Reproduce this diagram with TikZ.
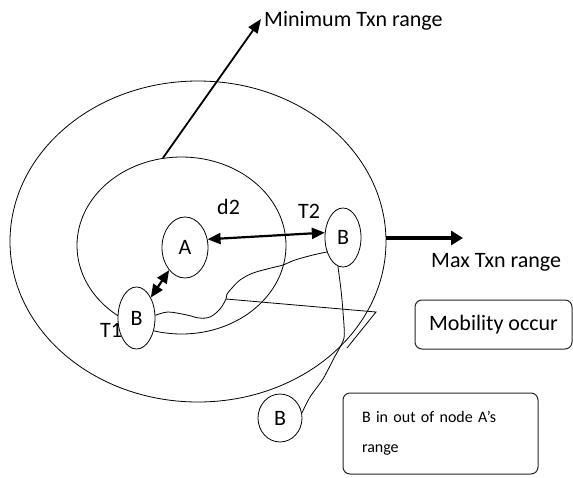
\documentclass[tikz,border=0pt]{standalone}
\usepackage{fontspec}
\setmainfont{Carlito}
\usetikzlibrary{shapes.geometric,arrows.meta}
\begin{document}
\begin{tikzpicture}[x=1pt,y=-1pt,
  ring/.style={draw, ellipse, line width=0.8pt, inner sep=0pt},
  mnode/.style={draw, ellipse, fill=white, line width=0.8pt, inner sep=0pt, font=\fontsize{22}{26}\selectfont},
  lbl/.style={font=\fontsize{22}{26}\selectfont, inner sep=0pt},
  note/.style={draw=black!85, rounded corners=7pt, line width=1pt, inner sep=0pt},
  thinline/.style={line width=0.8pt},
  dbl/.style={line width=2.2pt, {Triangle[length=13pt,width=11pt]}-{Triangle[length=13pt,width=11pt]}},
]
\useasboundingbox (0,0) rectangle (573,477);
% ranges
\node[ring, minimum width=376pt, minimum height=321pt] (outer) at (198,241.5) {};
\node[ring, minimum width=209pt, minimum height=177pt] (inner) at (181.5,245.5) {};
% mobile nodes
\node[mnode, minimum width=46pt, minimum height=61pt] (A) at (185,247.5) {A};
\node[mnode, minimum width=37pt, minimum height=62pt] (B1) at (136.5,318) {B};
\node[mnode, minimum width=36pt, minimum height=59pt] (B2) at (343,237.5) {B};
\node[mnode, minimum width=44pt, minimum height=48pt] (B3) at (280,418) {B};
% coordinates
\coordinate (mintip) at (261,19);
\coordinate (maxtip) at (463,238);
\coordinate (w) at (226,299);
\coordinate (tr) at (376,312);
\coordinate (tb) at (347,348);
% wavy path
\draw[thinline] plot[smooth, tension=0.55] coordinates {(B2.222) (313,255) (295,260) (283,265) (271,268) (253,273) (240,280) (232,288) (227,294) (w) (220,309) (210,317) (199,318) (187,315) (168,312) (B1.8)};
\draw[thinline] (w) -- (tr) -- (tb);
\draw[thinline] plot[smooth, tension=0.4] coordinates {(B2.260) (341,290) (343,312) (344,338) (334,358) (323,379) (310,397) (B3.13)};
% arrows
\draw[line width=1.8pt, -{Triangle[length=14pt,width=11pt]}] (inner.102) -- (mintip);
\draw[line width=4pt, -{Triangle[length=12pt,width=14pt]}] (outer.east |- maxtip) -- (maxtip);
\draw[dbl] (A.20) -- (B2.165);
\draw[dbl] (A.235) -- (B1.55);
% labels
\node[lbl, anchor=base west] (minl) at (264,26.5) {Minimum Txn range};
\node[lbl, anchor=base west] (maxl) at (431,267) {Max Txn range};
\node[lbl, anchor=base west] (d2l) at (217,214) {d2};
\node[lbl, anchor=base west] (t2l) at (298,218) {T2};
\node[lbl, anchor=base west] (t1l) at (100,337) {T1};
% notes
\node[note, minimum width=157pt, minimum height=49pt, font=\fontsize{22}{26}\selectfont] (mob) at (493.5,324.5) {Mobility occur};
\node[note, minimum width=195pt, minimum height=81pt, text width=157pt, align=left, font=\fontsize{16}{30}\selectfont] (outnote) at (440.5,433.5) {B in out of node A’s\\range};
\end{tikzpicture}
\end{document}
